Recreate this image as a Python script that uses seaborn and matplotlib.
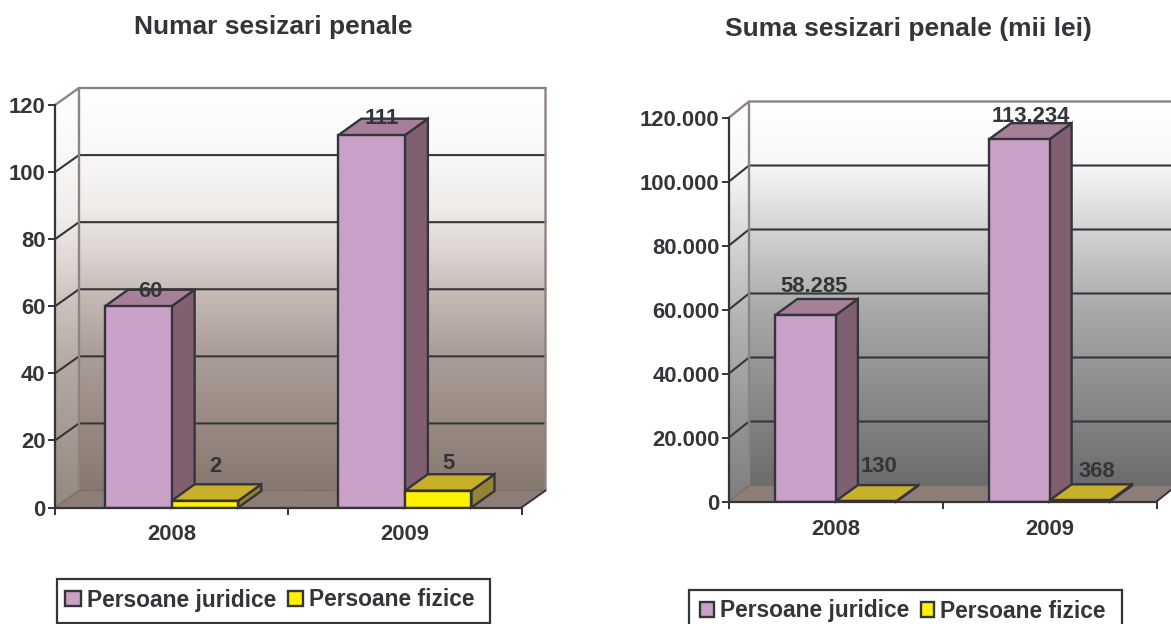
import numpy as np
import pandas as pd
import seaborn as sns
import matplotlib
matplotlib.use('Agg')
import matplotlib.pyplot as plt
from matplotlib.colors import LinearSegmentedColormap
from matplotlib.patches import Polygon, Rectangle
from matplotlib.ticker import FuncFormatter

##########
## Data ##
##########

years = ['2008', '2009']
types = ['Persoane juridice', 'Persoane fizice']

count_juridice = [60, 111]
count_fizice = [2, 5]
count_ticks = [0, 20, 40, 60, 80, 100, 120]

sum_juridice = [58285, 113234]
sum_fizice = [130, 368]
sum_ticks = [0, 20000, 40000, 60000, 80000, 100000, 120000]

title_count = 'Numar sesizari penale'
title_sum = 'Suma sesizari penale (mii lei)'

###########
## Style ##
###########

W, H = 1171, 624
INK = '#35343a'
WALL_EDGE = '#8f8380'
FLOOR = '#8c7d78'
PURPLE = ('#c8a0c8', '#a68098', '#806070')   # front, top, side
YELLOW = ('#fff200', '#c8b02a', '#968436')

sns.set_theme(style='white')
plt.rcParams['font.family'] = ['Liberation Sans', 'DejaVu Sans']
plt.rcParams['font.weight'] = 'bold'

fig = plt.figure(figsize=(W / 100, H / 100), dpi=100)

# whole figure backdrop, its data coords are just pixels (y up)
bg = fig.add_axes([0, 0, 1, 1], zorder=0)
bg.set_xlim(0, W)
bg.set_ylim(0, H)
bg.autoscale(False)
bg.axis('off')


def fmt_dot(v, pos=None):
    return f'{int(v):,}'.replace(',', '.')


def draw_panel(box, juridice, fizice, ticks, title, title_xy, wall_stops, depth, bar_depth,
               width, label_fmt, label_off, legend_box, legend_xy, handle, xpad, formatter=None):
    # box is left, top, right, bottom of the front plane in image pixels
    l, t, r, b = box
    ax = fig.add_axes([l / W, 1 - b / H, (r - l) / W, (b - t) / H], zorder=1)
    ax.patch.set_visible(False)

    df = pd.DataFrame({
        'an': years * 2,
        'tip': [types[0]] * 2 + [types[1]] * 2,
        'valoare': list(juridice) + list(fizice),
    })
    sns.barplot(data=df, x='an', y='valoare', hue='tip', order=years, hue_order=types,
                palette=[PURPLE[0], YELLOW[0]], saturation=1, width=width, gap=0,
                edgecolor=INK, linewidth=1.7, ax=ax, zorder=3)
    ax.set_xlim(-0.5, 1.5)
    ax.set_ylim(0, ticks[-1])
    ax.set_xlabel('')
    ax.set_ylabel('')
    ax.set_title('')

    dx, dy = depth
    p0 = ax.transData.transform((-0.5, 0))
    p1 = ax.transData.transform((1.5, 0))
    ptop = ax.transData.transform((-0.5, ticks[-1]))
    back = (dx, dy)

    # back wall gradient
    cmap = LinearSegmentedColormap.from_list('wall', wall_stops)
    grad = np.linspace(0, 1, 256).reshape(-1, 1)
    bg.imshow(grad, cmap=cmap, aspect='auto', zorder=1,
              extent=(p0[0] + dx, p1[0] + dx, p0[1] + dy, ptop[1] + dy))

    # side wall, same gradient a little lighter, clipped to the parallelogram
    side = Polygon([p0, ptop, ptop + back, p0 + back], transform=bg.transData, fc='none', ec='none')
    bg.add_patch(side)
    im = bg.imshow(grad, cmap=cmap, aspect='auto', zorder=1, alpha=0.88,
                   extent=(p0[0], p0[0] + dx, p0[1], ptop[1] + dy))
    im.set_clip_path(side)

    # floor
    bg.add_patch(Polygon([p0, p1, p1 + back, p0 + back], fc=FLOOR, ec='none', zorder=1.5))

    # grid lines run up the side wall and across the back
    for v in ticks[1:-1]:
        y = ax.transData.transform((0, v))[1]
        bg.plot([p0[0], p0[0] + dx, p1[0] + dx], [y, y + dy, y + dy], color=INK, lw=1.5,
                solid_joinstyle='miter', zorder=2)
    bg.plot([p0[0], p0[0] + dx, p1[0] + dx, p1[0] + dx],
            [ptop[1], ptop[1] + dy, ptop[1] + dy, p0[1] + dy],
            color=WALL_EDGE, lw=1.7, solid_joinstyle='miter', zorder=2)
    bg.plot([p0[0] + dx, p0[0] + dx], [ptop[1] + dy, p0[1] + dy], color=WALL_EDGE, lw=1.7, zorder=2)
    bg.plot([p0[0], p0[0] + dx, p1[0] + dx], [p0[1], p0[1] + dy, p0[1] + dy],
            color='#7a6c68', lw=0.9, zorder=2)
    bg.plot([p1[0], p1[0] + dx], [p1[1], p1[1] + dy], color=INK, lw=1.4, zorder=2)

    # 3d sides and tops of every bar, built from the patches seaborn drew
    d = bar_depth
    colors = [PURPLE, PURPLE, YELLOW, YELLOW]
    values = list(juridice) + list(fizice)
    for i, (q, col) in enumerate(zip(ax.patches[:4], colors)):
        x0 = q.get_x()
        x1 = x0 + q.get_width()
        h = values[i]
        c = ax.transData.transform((x1, 0))
        e = ax.transData.transform((x1, h))
        f = ax.transData.transform((x0, h))
        z = 2.4 if col is PURPLE else 2.6
        ax.add_patch(Polygon([c, e, e + d, c + d], fc=col[2], ec=INK, lw=1.7, joinstyle='miter',
                             transform=None, clip_on=False, zorder=z))
        ax.add_patch(Polygon([f, e, e + d, f + d], fc=col[1], ec=INK, lw=1.7, joinstyle='miter',
                             transform=None, clip_on=False, zorder=z))
        ax.annotate(label_fmt(h), xy=(x0 + q.get_width() / 2, h),
                    xytext=(label_off[i][0] * 0.72, label_off[i][1] * 0.72),
                    textcoords='offset points', ha='center', va='center',
                    fontsize=15.8, color=INK, annotation_clip=False, zorder=5)

    # axes
    sns.despine(ax=ax, top=True, right=True)
    for s in ('left', 'bottom'):
        ax.spines[s].set_color(INK)
        ax.spines[s].set_linewidth(1.6)
        ax.spines[s].set_zorder(4)
    ax.set_yticks(ticks)
    if formatter:
        ax.yaxis.set_major_formatter(FuncFormatter(formatter))
    ax.tick_params(axis='y', length=5, width=1.4, color=INK, pad=1.8, labelsize=15.8, labelcolor=INK, left=True)
    ax.set_xticks([-0.5, 0.5, 1.5], minor=True)
    ax.tick_params(axis='x', which='minor', length=5, width=1.4, color=INK, bottom=True)
    ax.tick_params(axis='x', which='major', length=0, pad=xpad, labelsize=15.8, labelcolor=INK)

    fig.text(title_xy[0] / W, 1 - title_xy[1] / H, title, ha='center', va='center',
             fontsize=19, color=INK, fontweight='bold')

    # legend frame is drawn by hand so the padding can match, the entries are still a real legend
    fl, ft, fr, fb = legend_box
    bg.add_patch(Rectangle((fl, H - fb), fr - fl, fb - ft, fc='white', ec=INK, lw=1.6, zorder=2))
    handles, labels = ax.get_legend_handles_labels()
    ax.legend(handles, labels, loc='center', ncol=2, bbox_to_anchor=(legend_xy[0] / W, 1 - legend_xy[1] / H),
              bbox_transform=fig.transFigure, fontsize=16.4, labelcolor=INK, frameon=False,
              handlelength=handle, handleheight=handle, handletextpad=0.27, columnspacing=0.5,
              borderpad=0, borderaxespad=0)


wall_left = [(0, '#ffffff'), (0.15, '#f9f9f9'), (0.3, '#efecea'), (0.42, '#d9d2ce'),
             (0.5, '#c8bdb8'), (0.65, '#ac9f99'), (1, '#87786f')]
wall_right = [(0, '#ffffff'), (0.16, '#f8f8f8'), (0.35, '#d0d0d0'), (0.55, '#a8a8a8'), (1, '#6c6c6c')]

draw_panel((55, 105, 521.5, 507.5), count_juridice, count_fizice, count_ticks, title_count, (273.5, 27),
           wall_left, (24, 17), (23, 16.5), 0.571, str,
           [(12, 15), (10, 17), (10, 34), (10, 27)], (56.5, 579, 490, 623), (270, 600), 0.68, 12)

draw_panel((729, 117.5, 1156.5, 501.5), sum_juridice, sum_fizice, sum_ticks, title_sum, (908.5, 29),
           wall_right, (20, 16), (22, 16), 0.566, fmt_dot,
           [(8, 28), (11, 23), (13, 35), (17, 29)], (689, 590, 1122, 640), (903, 611), 0.6, 12.5,
           formatter=fmt_dot)

plt.savefig('out.png', dpi=100)
plt.close()
